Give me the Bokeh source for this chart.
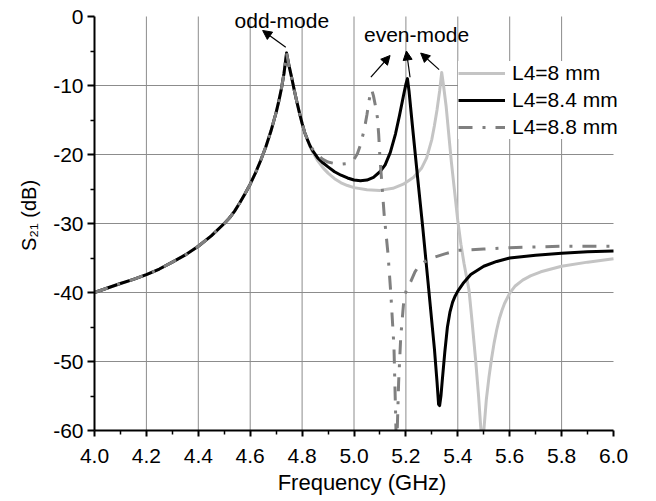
from bokeh.plotting import figure
from bokeh.models import (Range1d, FixedTicker, Arrow, NormalHead, Label,
                          Legend, LegendItem, PrintfTickFormatter)
from bokeh.embed import file_html
from bokeh.resources import INLINE

# ---------------- data ----------------
x_major = [4.0, 4.2, 4.4, 4.6, 4.8, 5.0, 5.2, 5.4, 5.6, 5.8, 6.0]
x_minor = [4.1, 4.3, 4.5, 4.7, 4.9, 5.1, 5.3, 5.5, 5.7, 5.9]
y_major = [-60, -50, -40, -30, -20, -10, 0]
y_minor = [-55, -45, -35, -25, -15, -5]

# part shared by the three curves (odd-mode resonance)
freq_common = [4.00, 4.05, 4.10, 4.15, 4.20, 4.25, 4.30, 4.35, 4.40, 4.45,
               4.50, 4.52, 4.54, 4.56, 4.58, 4.60, 4.62, 4.64, 4.66, 4.68,
               4.70, 4.71, 4.72, 4.73, 4.74, 4.75, 4.76, 4.77, 4.78, 4.79,
               4.80, 4.81, 4.82]
s21_common = [-40.0, -39.35, -38.7, -38.1, -37.4, -36.6, -35.6, -34.55, -33.3, -31.8,
              -30.0, -29.2, -28.2, -27.0, -25.7, -24.3, -22.7, -20.9, -18.9, -16.6,
              -13.9, -12.3, -10.5, -8.3, -5.3, -7.2, -8.9, -10.7, -12.4, -14.0,
              -15.5, -16.8, -17.8]

# L4 = 8 mm
freq_l80 = [4.83, 4.84, 4.86, 4.88, 4.90, 4.925, 4.95, 4.975, 5.00, 5.05,
            5.10, 5.15, 5.19, 5.23, 5.26, 5.28, 5.30, 5.31, 5.32, 5.33,
            5.338, 5.345, 5.355, 5.365, 5.375, 5.386, 5.40, 5.412, 5.424, 5.443,
            5.455, 5.469, 5.48, 5.488, 5.495, 5.501, 5.51, 5.52, 5.53, 5.54,
            5.55, 5.56, 5.57, 5.58, 5.60, 5.62, 5.65, 5.68, 5.72, 5.76,
            5.80, 5.90, 6.00]
s21_l80 = [-18.8, -19.6, -20.9, -21.9, -22.7, -23.5, -24.1, -24.5, -24.8, -25.1,
           -25.2, -24.9, -24.3, -23.3, -22.0, -20.5, -17.8, -15.8, -13.5, -10.8,
           -8.1, -10.0, -13.0, -17.0, -21.0, -24.8, -29.6, -33.0, -35.8, -39.6,
           -44.2, -49.9, -55.0, -59.3, -62.0, -59.7, -55.5, -52.3, -49.6, -47.3,
           -45.4, -43.8, -42.6, -41.6, -40.1, -39.1, -38.2, -37.6, -37.0, -36.6,
           -36.2, -35.6, -35.1]

# L4 = 8.4 mm
freq_l84 = [4.83, 4.84, 4.86, 4.88, 4.90, 4.925, 4.95, 4.975, 5.00, 5.025,
            5.05, 5.075, 5.10, 5.12, 5.14, 5.16, 5.175, 5.19, 5.20, 5.206,
            5.212, 5.225, 5.245, 5.265, 5.285, 5.30, 5.31, 5.32, 5.326, 5.33,
            5.335, 5.34, 5.35, 5.36, 5.37, 5.38, 5.39, 5.40, 5.42, 5.45,
            5.50, 5.55, 5.60, 5.70, 5.80, 5.90, 6.00]
s21_l84 = [-18.7, -19.4, -20.5, -21.2, -21.8, -22.5, -23.0, -23.4, -23.7, -23.8,
           -23.7, -23.3, -22.5, -21.5, -19.7, -17.0, -14.4, -11.6, -9.8, -9.0,
           -10.8, -15.8, -23.3, -30.6, -38.4, -44.3, -48.2, -53.0, -56.2, -56.4,
           -55.0, -52.8, -48.6, -45.0, -42.8, -41.4, -40.5, -39.8, -38.7, -37.4,
           -36.2, -35.5, -35.0, -34.6, -34.3, -34.1, -34.0]

# L4 = 8.8 mm
freq_l88 = [4.83, 4.84, 4.86, 4.88, 4.90, 4.925, 4.95, 4.975, 5.00, 5.013,
            5.025, 5.04, 5.05, 5.058, 5.065, 5.068, 5.075, 5.085, 5.09, 5.095,
            5.10, 5.108, 5.116, 5.131, 5.142, 5.154, 5.16, 5.163, 5.167, 5.172,
            5.18, 5.193, 5.205, 5.219, 5.235, 5.251, 5.27, 5.30, 5.35, 5.40,
            5.50, 5.60, 5.70, 5.80, 5.90, 6.00]
s21_l88 = [-18.6, -19.2, -20.1, -20.7, -21.1, -21.3, -21.4, -21.3, -20.7, -19.9,
           -18.6, -16.3, -14.2, -12.2, -10.8, -10.6, -11.5, -13.4, -14.6, -17.0,
           -20.5, -24.5, -28.6, -34.4, -40.2, -47.9, -57.0, -62.0, -59.5, -53.0,
           -46.5, -40.7, -39.3, -38.4, -37.0, -36.1, -35.6, -35.0, -34.4, -33.9,
           -33.7, -33.5, -33.4, -33.3, -33.3, -33.3]

series_labels = ["L4=8 mm", "L4=8.4 mm", "L4=8.8 mm"]

# annotations (data coordinates)
arrow_x0 = [4.737, 5.065, 5.216, 5.328]
arrow_y0 = [-4.45, -8.8, -8.8, -7.7]
arrow_x1 = [4.648, 5.139, 5.202, 5.257]
arrow_y1 = [-2.03, -5.65, -5.0, -5.3]
note_text = ["odd-mode", "even-mode"]
note_x = [4.722, 5.241]
note_y = [-0.6, -2.6]

FONT = "Liberation Sans"

# ---------------- figure ----------------
# scale: 259.5 px per GHz, 6.9 px per dB; frame extended a little beyond the
# axes so that annotations and legend near the edges are not clipped
PX_X = 259.5
PX_Y = 6.9
FRAME_W = 535
FRAME_H = 430
x_lo, x_hi = x_major[0], x_major[-1]
y_lo, y_hi = y_major[0], y_major[-1]

p = figure(frame_width=FRAME_W, frame_height=FRAME_H, output_backend="svg",
           toolbar_location=None,
           x_range=Range1d(x_lo, x_lo + FRAME_W / PX_X),
           y_range=Range1d(y_lo, y_lo + FRAME_H / PX_Y),
           min_border_left=94, min_border_top=0,
           min_border_right=18, min_border_bottom=68)
p.outline_line_color = None
p.background_fill_color = "white"
p.border_fill_color = "white"
p.xgrid.visible = False
p.ygrid.visible = False

for ax in (p.xaxis[0], p.yaxis[0]):
    ax.axis_line_width = 2
    ax.axis_line_color = "black"
    ax.major_tick_line_width = 2
    ax.minor_tick_line_width = 1.5
    ax.major_tick_line_color = "black"
    ax.minor_tick_line_color = "black"
    ax.major_tick_in = 0
    ax.minor_tick_in = 0
    ax.major_label_text_font = FONT
    ax.major_label_text_font_size = "21px"
    ax.major_label_text_color = "black"
    ax.axis_label_text_font = FONT
    ax.axis_label_text_font_style = "normal"
    ax.axis_label_text_color = "black"

p.xaxis.bounds = (x_lo, x_hi)
p.yaxis.bounds = (y_lo, y_hi)
p.xaxis.ticker = FixedTicker(ticks=x_major, minor_ticks=x_minor)
p.yaxis.ticker = FixedTicker(ticks=y_major, minor_ticks=y_minor)
p.xaxis.formatter = PrintfTickFormatter(format="%.1f")
p.yaxis.formatter = PrintfTickFormatter(format="%d")
p.xaxis.major_tick_out = 6
p.xaxis.minor_tick_out = 4
p.yaxis.major_tick_out = 7
p.yaxis.minor_tick_out = 4
p.xaxis.major_label_standoff = 12
p.yaxis.major_label_standoff = 4

p.xaxis.axis_label = "Frequency (GHz)"
p.xaxis.axis_label_text_font_size = "22px"
p.xaxis.axis_label_standoff = 4

p.yaxis.axis_label = "S\u2082\u2081 (dB)"
p.yaxis.axis_label_text_font_size = "20px"
p.yaxis.axis_label_standoff = 10

# grid lines only inside the axes box (interior ticks)
gx = x_major[1:-1]
gy = y_major[1:-1]
p.segment(x0=gx, y0=[y_lo] * len(gx), x1=gx, y1=[y_hi] * len(gx),
          line_color="#8c8c8c", line_width=1)
p.segment(x0=[x_lo] * len(gy), y0=gy, x1=[x_hi] * len(gy), y1=gy,
          line_color="#8c8c8c", line_width=1)

# curves
r80 = p.line(freq_common + freq_l80, s21_common + s21_l80,
             line_color="#c4c4c4", line_width=3, line_join="round")
r84 = p.line(freq_common + freq_l84, s21_common + s21_l84,
             line_color="black", line_width=3, line_join="round")
r88 = p.line(freq_common + freq_l88, s21_common + s21_l88,
             line_color="#808080", line_width=3, line_dash="14 10 3 10")

legend = Legend(items=[LegendItem(label=series_labels[0], renderers=[r80]),
                       LegendItem(label=series_labels[1], renderers=[r84]),
                       LegendItem(label=series_labels[2], renderers=[r88])],
                location=(364, 291), glyph_width=47, glyph_height=22,
                label_height=22, label_standoff=7, spacing=3, padding=10,
                margin=0, border_line_color=None,
                background_fill_color="white", background_fill_alpha=1.0,
                label_text_font=FONT, label_text_font_size="21px",
                label_text_color="black")
p.add_layout(legend)

# arrows
for i in range(len(arrow_x0)):
    p.add_layout(Arrow(end=NormalHead(size=9, fill_color="black",
                                      line_color="black", line_width=1),
                       x_start=arrow_x0[i], y_start=arrow_y0[i],
                       x_end=arrow_x1[i], y_end=arrow_y1[i],
                       line_color="black", line_width=1.2))

for i in range(len(note_text)):
    p.add_layout(Label(x=note_x[i], y=note_y[i], text=note_text[i],
                       text_align="center", text_baseline="alphabetic",
                       text_font=FONT, text_font_size="21px",
                       text_color="black"))

open("out.html", "w").write(file_html(p, INLINE))
